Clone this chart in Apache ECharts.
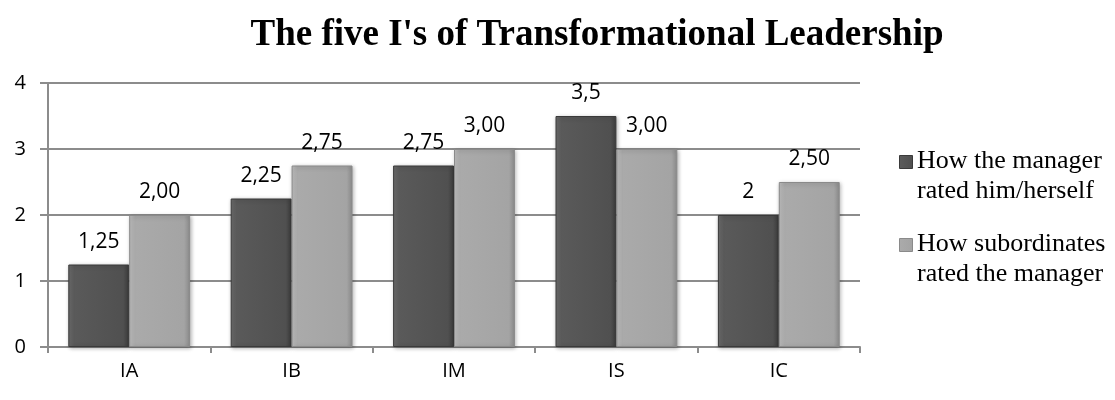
<!DOCTYPE html>
<html><head><meta charset="utf-8">
<script src="https://cdn.jsdelivr.net/npm/echarts@6/dist/echarts.min.js"></script>
<style>html,body{margin:0;padding:0;background:#fff}#c{width:1115px;height:400px}</style>
</head><body><div id="c"></div>
<script>
var categories = ['IA','IB','IM','IS','IC'];
var seriesNames = ['How the manager\nrated him/herself','How subordinates\nrated the manager'];
var managerValues = [1.25, 2.25, 2.75, 3.5, 2];
var managerLabels = ['1,25','2,25','2,75','3,5','2'];
var subordinateValues = [2.00, 2.75, 3.00, 3.00, 2.50];
var subordinateLabels = ['2,00','2,75','3,00','3,00','2,50'];
var yTicks = [0,1,2,3,4];

var chart = echarts.init(document.getElementById('c'), null, {renderer:'canvas'});
var darkFill = {type:'linear',x:0,y:0,x2:1,y2:0,colorStops:[{offset:0,color:'#6e6e6e'},{offset:0.1,color:'#5a5a5a'},{offset:0.9,color:'#505050'},{offset:1,color:'#3e3e3e'}]};
var lightFill = {type:'linear',x:0,y:0,x2:1,y2:0,colorStops:[{offset:0,color:'#c2c2c2'},{offset:0.1,color:'#aaaaaa'},{offset:0.9,color:'#a4a4a4'},{offset:1,color:'#8e8e8e'}]};
var sans = '"Open Sans", "Liberation Sans", sans-serif';
var labelFont = {show:true, position:'top', distance:12, color:'#000', fontSize:21, fontFamily:sans};
chart.setOption({
  animation:false,
  title:{text:"The five I's of Transformational Leadership", left:592, top:12, textAlign:'center',
    textStyle:{fontFamily:'Liberation Serif', fontWeight:'bold', fontSize:37, color:'#000'}},
  grid:{left:48, right:255, top:83, bottom:53},
  xAxis:{type:'category', data:categories,
    axisLine:{lineStyle:{color:'#8c8c8c', width:2}},
    axisTick:{show:true, length:6, lineStyle:{color:'#8c8c8c', width:2}},
    axisLabel:{color:'#000', fontSize:20, margin:14, fontFamily:sans}},
  yAxis:{type:'value', min:0, max:4, interval:1,
    axisLine:{show:true, lineStyle:{color:'#8c8c8c', width:2}},
    axisTick:{show:true, length:8, lineStyle:{color:'#8c8c8c', width:2}},
    splitLine:{lineStyle:{color:'#8c8c8c', width:2}},
    axisLabel:{color:'#000', fontSize:20, margin:22, fontFamily:sans,
      formatter:function(v){return yTicks.indexOf(v)>=0?String(v):'';}}},
  series:[
    {name:seriesNames[0], type:'bar', data:managerValues, barGap:'0%', barCategoryGap:'25%',
      itemStyle:{color:darkFill, borderColor:'#3a3a3a', borderWidth:1, shadowColor:'rgba(0,0,0,0.3)', shadowBlur:4, shadowOffsetX:1, shadowOffsetY:1},
      label:Object.assign({formatter:function(p){return managerLabels[p.dataIndex];}}, labelFont)},
    {name:seriesNames[1], type:'bar', data:subordinateValues,
      itemStyle:{color:lightFill, borderColor:'#8a8a8a', borderWidth:1, shadowColor:'rgba(0,0,0,0.3)', shadowBlur:4, shadowOffsetX:1, shadowOffsetY:1},
      label:Object.assign({formatter:function(p){return subordinateLabels[p.dataIndex];}}, labelFont)}
  ],
  graphic:[
    {type:'rect', left:899, top:155, shape:{width:13,height:13}, style:{fill:darkFill, stroke:'#3a3a3a'}},
    {type:'text', left:917, top:146, style:{text:seriesNames[0], font:'26px "Liberation Serif"', fill:'#000', lineHeight:30}},
    {type:'rect', left:899, top:238, shape:{width:13,height:13}, style:{fill:lightFill, stroke:'#8a8a8a'}},
    {type:'text', left:917, top:229, style:{text:seriesNames[1], font:'26px "Liberation Serif"', fill:'#000', lineHeight:30}}
  ]
});
</script></body></html>
